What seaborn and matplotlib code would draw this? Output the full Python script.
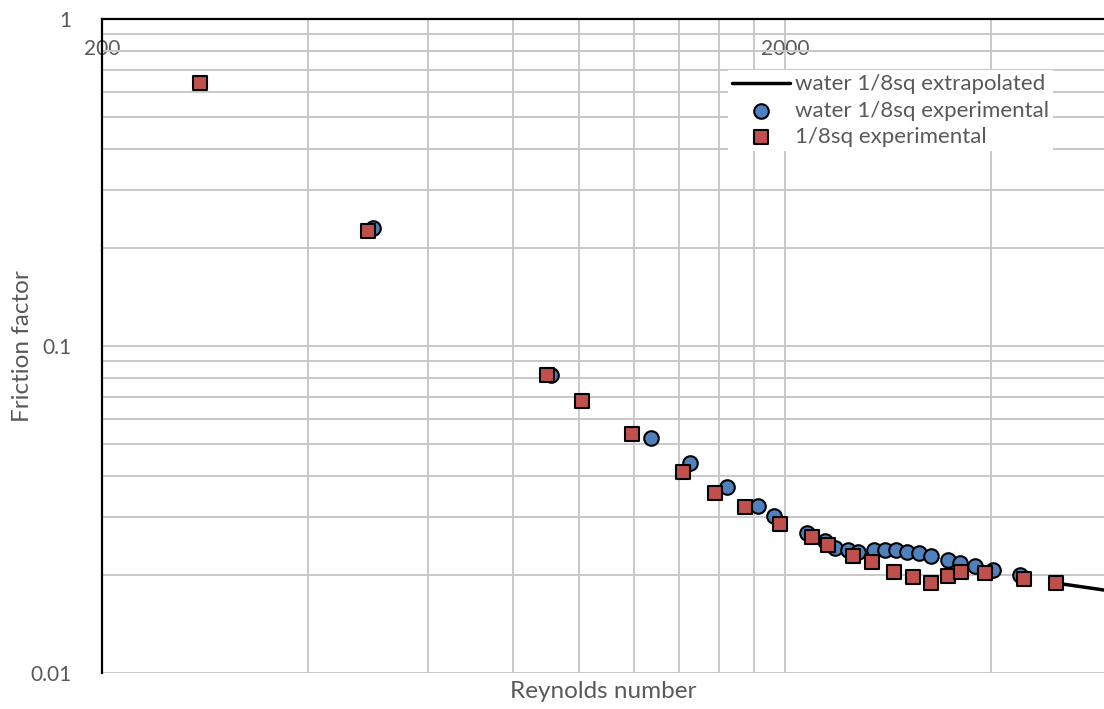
import numpy as np
import pandas as pd
import matplotlib
matplotlib.use("Agg")
import matplotlib.pyplot as plt
from matplotlib.ticker import FixedLocator, FixedFormatter, NullFormatter
import seaborn as sns

## data (Reynolds number vs friction factor)
re_sq = [278, 490, 896, 1010, 1193, 1416, 1581, 1747, 1965, 2187, 2312, 2516,
         2677, 2886, 3074, 3266, 3466, 3613, 3920, 4472, 4980]
f_sq = [0.636, 0.2248, 0.0816, 0.0681, 0.0539, 0.0411, 0.0356, 0.0322, 0.0285,
        0.0260, 0.0247, 0.0228, 0.0218, 0.0204, 0.0196, 0.01884, 0.01973, 0.0203,
        0.0202, 0.0194, 0.01884]

re_water = [499, 908, 1272, 1451, 1642, 1823, 1928, 2150, 2287, 2366, 2474, 2558,
            2698, 2800, 2906, 3018, 3142, 3276, 3466, 3604, 3792, 4032, 4412]
f_water = [0.229, 0.0816, 0.0525, 0.0438, 0.0370, 0.0325, 0.0303, 0.0268, 0.0254,
           0.0241, 0.0238, 0.0235, 0.0237, 0.0237, 0.0237, 0.0234, 0.0232, 0.0228,
           0.0222, 0.0217, 0.0213, 0.0207, 0.01996]

re_extrap = [4980, 5900]
f_extrap = [0.01884, 0.01790]

x_major = [200, 2000, 20000]
x_major_labels = ["200", "2000", "20000"]
x_minor = [400, 600, 800, 1000, 1200, 1400, 1600, 1800, 4000, 6000]

sq = pd.DataFrame({"Re": re_sq, "f": f_sq})
water = pd.DataFrame({"Re": re_water, "f": f_water})
extrap = pd.DataFrame({"Re": re_extrap, "f": f_extrap})

sns.set_style("white")
plt.rcParams["font.family"] = ["Lato", "DejaVu Sans"]
txt = "#595959"
grid_c = "#c8c8c8"

fig = plt.figure(figsize=(11.04, 7.09), dpi=100)
ax = fig.add_axes([102 / 1104, 36 / 709, 1 - 102 / 1104, 654 / 709])

sns.lineplot(data=extrap, x="Re", y="f", ax=ax, color="black", lw=2.5,
             label="water 1/8sq extrapolated", zorder=3)
sns.scatterplot(data=water, x="Re", y="f", ax=ax, marker="o", s=110,
                color="#4f81bd", edgecolor="black", linewidth=1.5,
                label="water 1/8sq experimental", zorder=4)
sns.scatterplot(data=sq, x="Re", y="f", ax=ax, marker="s", s=100,
                color="#c0504d", edgecolor="black", linewidth=1.5,
                label="1/8sq experimental", zorder=5)

ax.set_xscale("log")
ax.set_yscale("log")
ax.set_xlim(200, 5860)
ax.set_ylim(0.01, 1)

ax.xaxis.set_major_locator(FixedLocator(x_major))
ax.xaxis.set_major_formatter(FixedFormatter(x_major_labels))
ax.xaxis.set_minor_locator(FixedLocator(x_minor))
ax.xaxis.set_minor_formatter(NullFormatter())
ax.yaxis.set_major_formatter(FixedFormatter(["0.01", "0.1", "1"]))
ax.yaxis.set_major_locator(FixedLocator([0.01, 0.1, 1]))
ax.yaxis.set_minor_formatter(NullFormatter())

ax.grid(True, which="both", color=grid_c, lw=1.4)
ax.set_axisbelow(True)

# x labels sit inside the plot, just under the top axis line
ax.tick_params(axis="x", which="both", bottom=False, top=False,
               labelbottom=False, labeltop=True, length=0, pad=-29,
               labelsize=15, labelcolor=txt)
ax.tick_params(axis="y", which="both", left=False, length=0, pad=22,
               labelsize=15, labelcolor=txt)

for s in ["right", "bottom"]:
    ax.spines[s].set_visible(False)
for s in ["left", "top"]:
    ax.spines[s].set_color("black")
    ax.spines[s].set_linewidth(1.6)

ax.set_xlabel("Reynolds number", fontsize=17.5, color=txt, labelpad=6)
ax.set_ylabel("Friction factor", fontsize=17.5, color=txt, labelpad=-2)
ax.xaxis.set_label_position("bottom")

leg = ax.legend(loc="upper left", bbox_to_anchor=(728 / 1104, 1 - 70 / 709),
                bbox_transform=fig.transFigure, frameon=True, fancybox=False,
                fontsize=16, handlelength=2.6, handletextpad=0.2,
                borderpad=0.2, labelspacing=0.28, borderaxespad=0)
leg.get_frame().set_facecolor("white")
leg.get_frame().set_edgecolor("none")
leg.get_frame().set_alpha(1)
for t in leg.get_texts():
    t.set_color(txt)

plt.savefig("out.png", dpi=100)
